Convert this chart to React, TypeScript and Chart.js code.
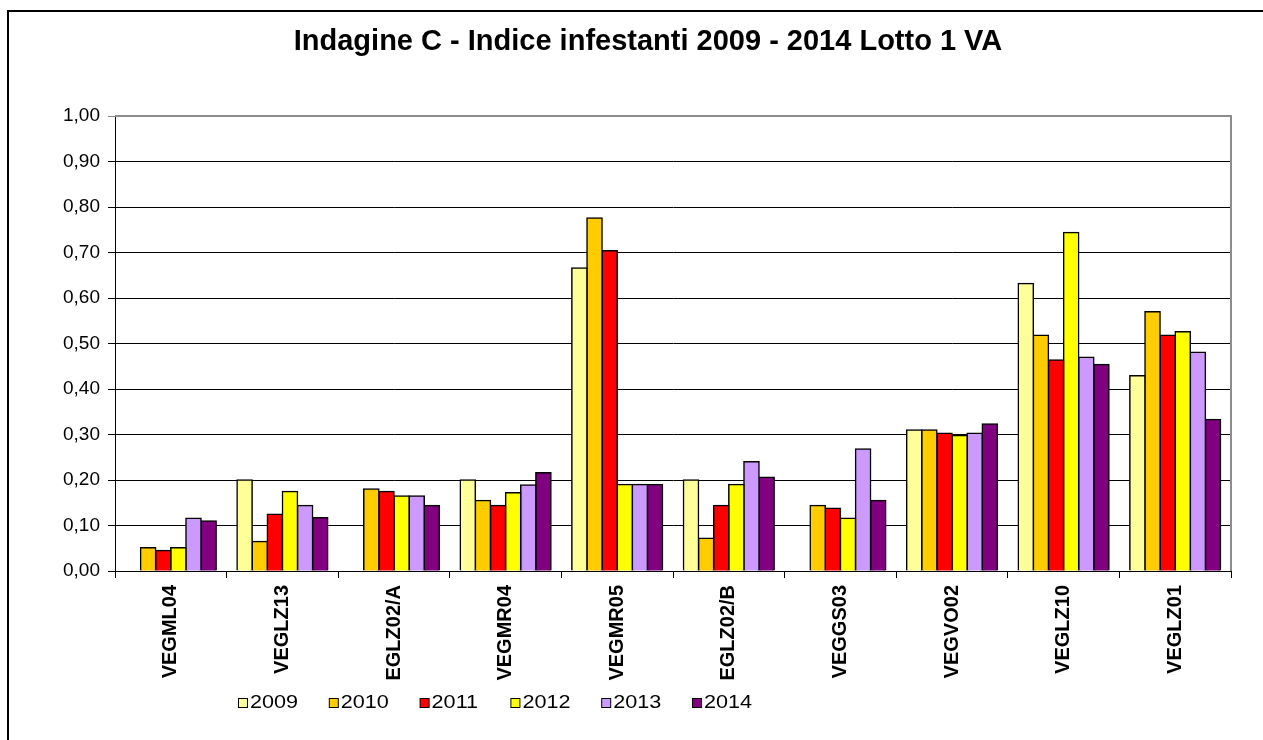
import React, { useEffect, useRef } from 'react';
import { Chart, registerables } from 'chart.js';

Chart.register(...registerables);

const titleText = 'Indagine C - Indice infestanti 2009 - 2014 Lotto 1 VA';
const categories = ['VEGML04', 'VEGLZ13', 'EGLZ02/A', 'VEGMR04', 'VEGMR05', 'EGLZ02/B', 'VEGGS03', 'VEGVO02', 'VEGLZ10', 'VEGLZ01'];
const years = ['2009', '2010', '2011', '2012', '2013', '2014'];
const v2009 = [null, 0.2, null, 0.2, 0.666, 0.2, null, 0.31, 0.632, 0.429];
const v2010 = [0.051, 0.065, 0.18, 0.155, 0.776, 0.072, 0.144, 0.31, 0.518, 0.57];
const v2011 = [0.045, 0.125, 0.175, 0.144, 0.704, 0.144, 0.138, 0.303, 0.464, 0.518];
const v2012 = [0.051, 0.175, 0.165, 0.172, 0.19, 0.19, 0.116, 0.298, 0.744, 0.526];
const v2013 = [0.116, 0.144, 0.165, 0.189, 0.19, 0.24, 0.268, 0.303, 0.47, 0.481];
const v2014 = [0.11, 0.117, 0.144, 0.216, 0.19, 0.206, 0.155, 0.323, 0.454, 0.333];
const seriesValues = [v2009, v2010, v2011, v2012, v2013, v2014];
const colors = ['#FFFF99', '#FFCC00', '#FF0000', '#FFFF00', '#CC99FF', '#800080'];
const yTickLabels = ['0,00', '0,10', '0,20', '0,30', '0,40', '0,50', '0,60', '0,70', '0,80', '0,90', '1,00'];

const FONT = '"Liberation Sans", Arial, Helvetica, sans-serif';

const decorPlugin = {
  id: 'decor',
  beforeDraw(chart: any) {
    const ctx = chart.ctx;
    ctx.save();
    ctx.fillStyle = '#fff';
    ctx.fillRect(0, 0, chart.width, chart.height);
    ctx.strokeStyle = '#000';
    ctx.lineWidth = 2;
    ctx.strokeRect(8, 11, chart.width + 50, chart.height + 50);
    ctx.restore();
  },
  afterDraw(chart: any) {
    const ctx = chart.ctx;
    const a = chart.chartArea;
    ctx.save();
    // plot area border (top & right)
    ctx.strokeStyle = '#8c8c8c';
    ctx.lineWidth = 2;
    ctx.beginPath();
    ctx.moveTo(a.left, a.top);
    ctx.lineTo(a.right, a.top);
    ctx.lineTo(a.right, a.bottom);
    ctx.stroke();
    // title
    ctx.fillStyle = '#000';
    ctx.font = `bold 29px ${FONT}`;
    ctx.textAlign = 'center';
    ctx.textBaseline = 'middle';
    ctx.fillText(titleText, 648, 42);
    // legend
    chart.data.datasets.forEach((ds: any, i: number) => {
      const x = 238 + i * 90.8;
      ctx.fillStyle = ds.backgroundColor;
      ctx.fillRect(x + 0.5, 698.5, 9, 9);
      ctx.strokeStyle = '#000';
      ctx.lineWidth = 1;
      ctx.strokeRect(x + 0.5, 698.5, 9, 9);
      ctx.fillStyle = '#000';
      ctx.font = `18px ${FONT}`;
      ctx.textAlign = 'left';
      ctx.textBaseline = 'middle';
      ctx.save();
      ctx.translate(x + 12, 703.5);
      ctx.scale(1.2, 1);
      ctx.fillText(ds.label, 0, 0);
      ctx.restore();
    });
    ctx.restore();
  },
};

export default function App() {
  const ref = useRef<HTMLCanvasElement | null>(null);
  useEffect(() => {
    if (!ref.current) return;
    const chart = new Chart(ref.current, {
      type: 'bar',
      data: {
        labels: categories,
        datasets: years.map((y, i) => ({
          label: y,
          data: seriesValues[i],
          backgroundColor: colors[i],
          borderColor: '#000',
          borderWidth: 1.5,
          borderSkipped: 'start',
          inflateAmount: 0.75,
          barPercentage: 1,
          categoryPercentage: 0.813,
        })),
      },
      options: {
        animation: false,
        responsive: true,
        maintainAspectRatio: false,
        layout: { padding: { top: 116, right: 32, left: 0, bottom: 0 } },
        plugins: {
          legend: { display: false },
          title: { display: false },
          tooltip: { enabled: false },
        },
        scales: {
          x: {
            afterFit: (s: any) => { s.height = 169; },
            grid: {
              offset: true,
              drawOnChartArea: false,
              drawTicks: true,
              tickLength: 7,
              color: '#000',
            },
            border: { display: true, color: '#000', width: 1 },
            ticks: {
              minRotation: 90,
              maxRotation: 90,
              autoSkip: false,
              padding: 7,
              color: '#000',
              font: { family: FONT, size: 20, weight: 'bold' },
            },
          },
          y: {
            min: 0,
            max: 1,
            afterFit: (s: any) => { s.width = 115; },
            grid: {
              color: (c: any) => (c.tick && c.tick.value === 1 ? '#8c8c8c' : '#000'),
              lineWidth: 1,
              tickLength: 7,
              drawTicks: true,
            },
            border: { display: true, color: '#000', width: 1 },
            ticks: {
              stepSize: 0.1,
              padding: 8,
              color: '#000',
              font: { family: FONT, size: 19 },
              callback: (_v: any, idx: number) => yTickLabels[idx],
            },
          },
        },
      },
      plugins: [decorPlugin],
    } as any);
    return () => chart.destroy();
  }, []);
  return (
    <div style={{ position: 'absolute', left: 0, top: 0, width: 1263, height: 740 }}>
      <canvas ref={ref} />
    </div>
  );
}
